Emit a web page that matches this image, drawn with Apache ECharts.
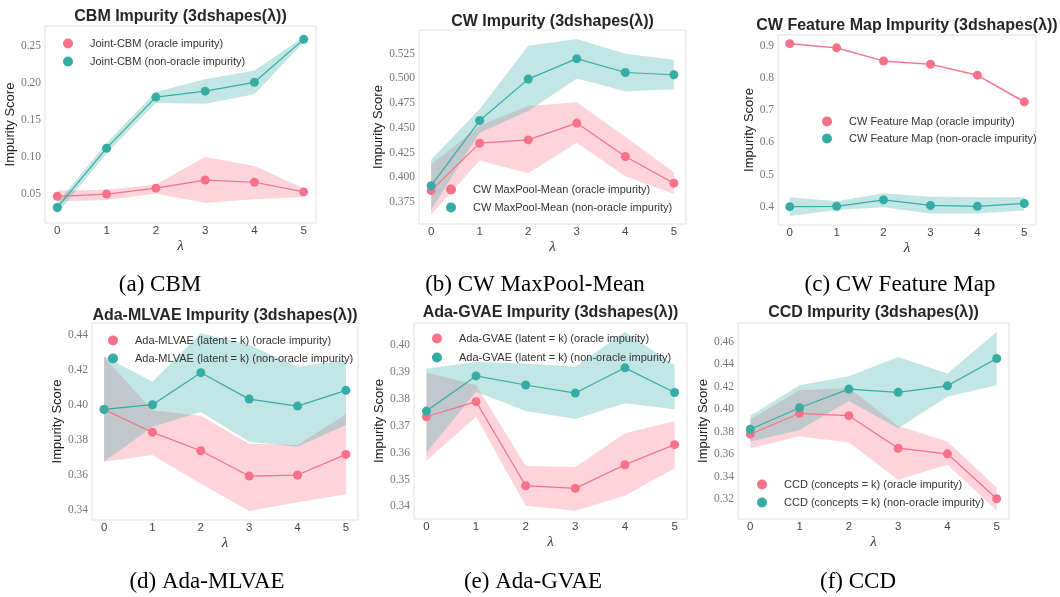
<!DOCTYPE html>
<html>
<head>
<meta charset="utf-8">
<script src="https://cdn.jsdelivr.net/npm/echarts@6/dist/echarts.min.js"></script>
<style>
html, body { margin: 0; padding: 0; background: #fff; }
#chart { width: 1060px; height: 597px; }
</style>
</head>
<body>
<div id="chart"></div>
<script>
var lambdas = [0, 1, 2, 3, 4, 5];

// (a) CBM
var cbmOracle     = [0.047, 0.050, 0.058, 0.069, 0.066, 0.053];
var cbmOracleLow  = [0.040, 0.042, 0.051, 0.038, 0.043, 0.046];
var cbmOracleHigh = [0.055, 0.056, 0.063, 0.100, 0.088, 0.058];
var cbmNon        = [0.032, 0.112, 0.181, 0.189, 0.201, 0.259];
var cbmNonLow     = [0.024, 0.105, 0.173, 0.172, 0.185, 0.255];
var cbmNonHigh    = [0.038, 0.119, 0.188, 0.205, 0.217, 0.262];
var cbmTicks      = [0.05, 0.10, 0.15, 0.20, 0.25];

// (b) CW MaxPool-Mean
var cwOracle      = [0.3865, 0.4345, 0.4378, 0.4548, 0.4210, 0.3940];
var cwOracleLow   = [0.3620, 0.4170, 0.4040, 0.4350, 0.4010, 0.3830];
var cwOracleHigh  = [0.4130, 0.4520, 0.4720, 0.4760, 0.4410, 0.4050];
var cwNon         = [0.3915, 0.4574, 0.4993, 0.5200, 0.5060, 0.5037];
var cwNonLow      = [0.3670, 0.4450, 0.4670, 0.5000, 0.4870, 0.4890];
var cwNonHigh     = [0.4176, 0.4690, 0.5330, 0.5400, 0.5250, 0.5190];
var cwTicks       = [0.375, 0.400, 0.425, 0.450, 0.475, 0.500, 0.525];

// (c) CW Feature Map
var fmOracle      = [0.907, 0.894, 0.853, 0.843, 0.809, 0.726];
var fmOracleLow   = [0.904, 0.891, 0.850, 0.840, 0.806, 0.722];
var fmOracleHigh  = [0.910, 0.897, 0.856, 0.846, 0.812, 0.730];
var fmNon         = [0.400, 0.401, 0.421, 0.404, 0.401, 0.410];
var fmNonLow      = [0.371, 0.390, 0.398, 0.379, 0.379, 0.388];
var fmNonHigh     = [0.429, 0.417, 0.442, 0.431, 0.429, 0.429];
var fmTicks       = [0.4, 0.5, 0.6, 0.7, 0.8, 0.9];

// (d) Ada-MLVAE
var mlOracle      = [0.3975, 0.3844, 0.3739, 0.3594, 0.3600, 0.3718];
var mlOracleLow   = [0.3676, 0.3714, 0.3550, 0.3394, 0.3444, 0.3490];
var mlOracleHigh  = [0.4275, 0.3970, 0.3939, 0.3779, 0.3771, 0.3947];
var mlNon         = [0.3975, 0.4002, 0.4185, 0.4034, 0.3994, 0.4084];
var mlNonLow      = [0.3676, 0.3876, 0.3960, 0.3790, 0.3762, 0.3886];
var mlNonHigh     = [0.4280, 0.4133, 0.4410, 0.4343, 0.4219, 0.4257];
var mlTicks       = [0.34, 0.36, 0.38, 0.40, 0.42, 0.44];

// (e) Ada-GVAE
var gvOracle      = [0.3734, 0.3790, 0.3477, 0.3467, 0.3555, 0.3630];
var gvOracleLow   = [0.3570, 0.3734, 0.3402, 0.3384, 0.3440, 0.3542];
var gvOracleHigh  = [0.3899, 0.3852, 0.3551, 0.3547, 0.3672, 0.3718];
var gvNon         = [0.3755, 0.3886, 0.3852, 0.3822, 0.3916, 0.3824];
var gvNonLow      = [0.3600, 0.3827, 0.3755, 0.3725, 0.3784, 0.3762];
var gvNonHigh     = [0.3913, 0.3938, 0.3932, 0.3920, 0.4050, 0.3926];
var gvTicks       = [0.34, 0.35, 0.36, 0.37, 0.38, 0.39, 0.40];

// (f) CCD
var ccdOracle     = [0.3778, 0.3964, 0.3943, 0.3653, 0.3603, 0.3203];
var ccdOracleLow  = [0.3653, 0.3760, 0.3703, 0.3372, 0.3505, 0.3097];
var ccdOracleHigh = [0.3910, 0.4170, 0.4190, 0.3850, 0.3712, 0.3303];
var ccdNon        = [0.3822, 0.4014, 0.4180, 0.4151, 0.4209, 0.4453];
var ccdNonLow     = [0.3712, 0.3816, 0.4073, 0.3831, 0.4112, 0.4215];
var ccdNonHigh    = [0.3943, 0.4215, 0.4295, 0.4467, 0.4319, 0.4689];
var ccdTicks      = [0.32, 0.34, 0.36, 0.38, 0.40, 0.42, 0.44, 0.46];

var oracleColor = '#f77189';
var nonColor = '#36ada4';

var panels = [
    {title: 'CBM Impurity (3dshapes(λ))', caption: '(a) CBM', label: 'Joint-CBM',
     oracle: cbmOracle, oracleLow: cbmOracleLow, oracleHigh: cbmOracleHigh,
     non: cbmNon, nonLow: cbmNonLow, nonHigh: cbmNonHigh, ticks: cbmTicks, digits: 2,
     box: [45, 26, 271, 197], yRange: [0.011, 0.277], legend: [63, 37, 5], nameGap: 26,
     titleY: 17, captionX: 160, captionY: 285},
    {title: 'CW Impurity (3dshapes(λ))', caption: '(b) CW MaxPool-Mean', label: 'CW MaxPool-Mean',
     oracle: cwOracle, oracleLow: cwOracleLow, oracleHigh: cwOracleHigh,
     non: cwNon, nonLow: cwNonLow, nonHigh: cwNonHigh, ticks: cwTicks, digits: 3,
     box: [419, 30, 267, 194], yRange: [0.3527, 0.549], legend: [446, 183, 5], nameGap: 31,
     titleY: 22, captionX: 535, captionY: 285},
    {title: 'CW Feature Map Impurity (3dshapes(λ))', caption: '(c) CW Feature Map', label: 'CW Feature Map',
     oracle: fmOracle, oracleLow: fmOracleLow, oracleHigh: fmOracleHigh,
     non: fmNon, nonLow: fmNonLow, nonHigh: fmNonHigh, ticks: fmTicks, digits: 1,
     box: [778, 35, 258, 190], yRange: [0.343, 0.934], legend: [822, 115, 4], nameGap: 20,
     titleY: 26, captionX: 900, captionY: 285},
    {title: 'Ada-MLVAE Impurity (3dshapes(λ))', caption: '(d) Ada-MLVAE', label: 'Ada-MLVAE (latent = k)',
     oracle: mlOracle, oracleLow: mlOracleLow, oracleHigh: mlOracleHigh,
     non: mlNon, nonLow: mlNonLow, nonHigh: mlNonHigh, ticks: mlTicks, digits: 2,
     box: [92, 323, 266, 197], yRange: [0.3343, 0.4469], legend: [108, 334, 5], nameGap: 28,
     titleY: 316, captionX: 207, captionY: 582},
    {title: 'Ada-GVAE Impurity (3dshapes(λ))', caption: '(e) Ada-GVAE', label: 'Ada-GVAE (latent = k)',
     oracle: gvOracle, oracleLow: gvOracleLow, oracleHigh: gvOracleHigh,
     non: gvNon, nonLow: gvNonLow, nonHigh: gvNonHigh, ticks: gvTicks, digits: 2,
     box: [414, 323, 273, 196], yRange: [0.3353, 0.4083], legend: [432, 332, 6], nameGap: 26,
     titleY: 313, captionX: 533, captionY: 582},
    {title: 'CCD Impurity (3dshapes(λ))', caption: '(f) CCD', label: 'CCD (concepts = k)',
     oracle: ccdOracle, oracleLow: ccdOracleLow, oracleHigh: ccdOracleHigh,
     non: ccdNon, nonLow: ccdNonLow, nonHigh: ccdNonHigh, ticks: ccdTicks, digits: 2,
     box: [738, 323, 271, 196], yRange: [0.3022, 0.4769], legend: [757, 478, 5], nameGap: 25,
     titleY: 313, captionX: 858, captionY: 582}
];

function pairs(values) {
    return lambdas.map(function (x, k) { return [x, values[k]]; });
}

// shaded band between low and high, drawn once as a polygon
function bandSeries(i, low, high, color) {
    return {
        type: 'custom',
        xAxisIndex: i,
        yAxisIndex: i,
        silent: true,
        z: 1,
        data: lambdas.map(function (x, k) { return [x, low[k], high[k]]; }),
        encode: {x: 0, y: [1, 2]},
        renderItem: function (params, api) {
            if (params.dataIndex !== 0) {
                return;
            }
            var pts = [];
            for (var k = 0; k < lambdas.length; k++) {
                pts.push(api.coord([lambdas[k], high[k]]));
            }
            for (var k = lambdas.length - 1; k >= 0; k--) {
                pts.push(api.coord([lambdas[k], low[k]]));
            }
            return {type: 'polygon', shape: {points: pts}, style: {fill: color, opacity: 0.3}};
        }
    };
}

function lineSeries(i, name, values, color) {
    return {
        type: 'line',
        name: name,
        xAxisIndex: i,
        yAxisIndex: i,
        data: pairs(values),
        symbol: 'circle',
        symbolSize: 9,
        showSymbol: true,
        lineStyle: {color: color, width: 1.2},
        itemStyle: {color: color},
        z: 3
    };
}

var grids = [], xAxes = [], yAxes = [], legends = [], series = [], graphics = [];

panels.forEach(function (p, i) {
    var oName = p.label + ' (oracle impurity)';
    var nName = p.label + ' (non-oracle impurity)';
    grids.push({
        left: p.box[0], top: p.box[1], width: p.box[2], height: p.box[3],
        show: true, borderColor: '#e2e2e2', borderWidth: 1, backgroundColor: '#fff'
    });
    xAxes.push({
        type: 'value', gridIndex: i, min: -0.25, max: 5.25,
        axisLine: {show: false}, axisTick: {show: false}, splitLine: {show: false},
        axisLabel: {customValues: lambdas, color: '#444', fontFamily: 'Liberation Sans', fontSize: 11.5, margin: 2},
        name: 'λ', nameLocation: 'middle', nameGap: 16,
        nameTextStyle: {fontFamily: 'Liberation Serif', fontStyle: 'italic', fontSize: 15, color: '#333'}
    });
    yAxes.push({
        type: 'value', gridIndex: i, min: p.yRange[0], max: p.yRange[1],
        axisLine: {show: false}, axisTick: {show: false}, splitLine: {show: false},
        axisLabel: {
            customValues: p.ticks, color: '#777', fontFamily: 'Liberation Serif', fontSize: 11.5, margin: 4,
            formatter: function (v) { return v.toFixed(p.digits); }
        },
        name: 'Impurity Score', nameLocation: 'middle', nameGap: p.nameGap,
        nameTextStyle: {fontFamily: 'Liberation Sans', fontSize: 13, color: '#222'}
    });
    legends.push({
        data: [oName, nName], orient: 'vertical', left: p.legend[0], top: p.legend[1],
        itemGap: p.legend[2], itemWidth: 34, itemHeight: 10, icon: 'circle', padding: 0,
        selectedMode: false,
        textStyle: {fontFamily: 'Liberation Sans', fontSize: 11, color: '#333', lineHeight: 13}
    });
    series.push(bandSeries(i, p.oracleLow, p.oracleHigh, oracleColor));
    series.push(bandSeries(i, p.nonLow, p.nonHigh, nonColor));
    series.push(lineSeries(i, oName, p.oracle, oracleColor));
    series.push(lineSeries(i, nName, p.non, nonColor));

    graphics.push({
        type: 'text', x: p.box[0] + p.box[2] / 2, y: p.titleY,
        style: {text: p.title, font: 'bold 16px "Liberation Sans"', fill: '#262626', align: 'center', verticalAlign: 'middle'}
    });
    graphics.push({
        type: 'text', x: p.captionX, y: p.captionY,
        style: {text: p.caption, font: '23px "Liberation Serif"', fill: '#000', align: 'center', verticalAlign: 'middle'}
    });
});

var myChart = echarts.init(document.getElementById('chart'));
myChart.setOption({
    backgroundColor: '#fff',
    animation: false,
    grid: grids,
    xAxis: xAxes,
    yAxis: yAxes,
    legend: legends,
    series: series,
    graphic: graphics
});
</script>
</body>
</html>
